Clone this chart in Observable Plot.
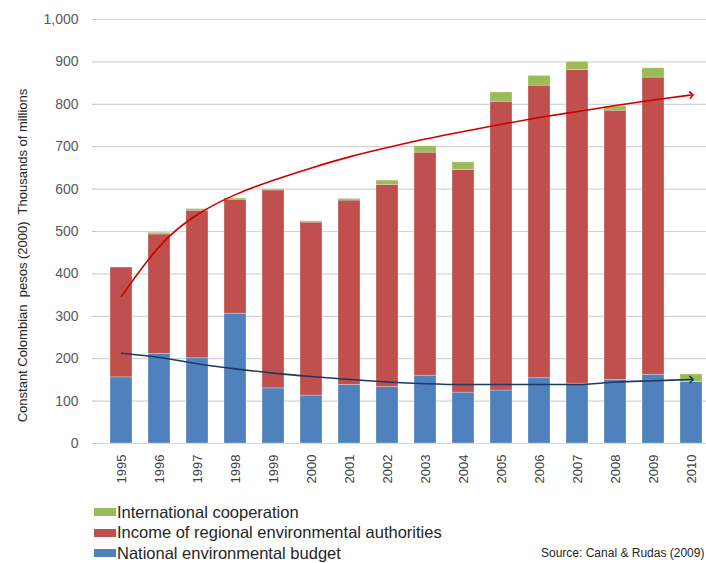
<!DOCTYPE html>
<html>
<head>
<meta charset="utf-8">
<script src="https://cdn.jsdelivr.net/npm/d3@7"></script>
<script src="https://cdn.jsdelivr.net/npm/@observablehq/plot@0.6"></script>
<style>
  body { margin: 0; background: #fff; }
  #wrap { position: relative; width: 706px; height: 563px; overflow: hidden; font-family: "Liberation Sans", Arial, sans-serif; color: #262626; }
  #legend { position: absolute; left: 94px; top: 502px; }
  .row { display: flex; align-items: center; height: 20.5px; font-size: 16.5px; white-space: nowrap; }
  .sw { width: 22px; height: 8px; margin-right: 1px; }
  #source { position: absolute; left: 541px; top: 546px; font-size: 12px; white-space: nowrap; }
</style>
</head>
<body>
<div id="wrap">
  <div id="chart"></div>
  <div id="legend"></div>
  <div id="source">Source: Canal &amp; Rudas (2009)</div>
</div>
<script>
const years = ["1995","1996","1997","1998","1999","2000","2001","2002","2003","2004","2005","2006","2007","2008","2009","2010"];
const seriesNames = ["National environmental budget", "Income of regional environmental authorities", "International cooperation"];
const seriesColors = ["#4f81bd", "#c0504d", "#9bbb59"];
const national = [156, 211, 201, 306, 130, 113, 138, 133, 160, 120, 125, 154, 141, 150, 162, 145];
const regional = [259, 282, 348, 269, 467, 408, 435, 477, 526, 525, 681, 690, 740, 635, 701, 0];
const international = [0, 4, 4, 3, 3, 3, 4, 10, 15, 18, 22, 23, 19, 10, 22, 18];
const regionalTrend = [347, 465, 540, 587, 621, 650, 676, 698, 718, 736, 753, 769, 783, 797, 810, 822];
const nationalTrend = [213, 203, 188, 176, 166, 158, 151, 145, 141, 139, 139, 139, 139, 145, 148, 151];
const yTicks = [0, 100, 200, 300, 400, 500, 600, 700, 800, 900, 1000];
const yLabel = "Constant Colombian\u00a0 pesos (2000)\u00a0 Thousands of millions";

const seriesValues = [national, regional, international];
const bars = [];
seriesNames.forEach((s, si) => years.forEach((y, i) => bars.push({year: y, series: s, value: seriesValues[si][i]})));
const redLine = years.map((y, i) => ({year: y, value: regionalTrend[i]}));
const blueLine = years.map((y, i) => ({year: y, value: nationalTrend[i]}));

const plot = Plot.plot({
  width: 706,
  height: 500,
  marginLeft: 96,
  marginRight: 0,
  marginTop: 19,
  marginBottom: 57,
  style: { fontFamily: "'Liberation Sans', Arial, sans-serif", background: "#fff" },
  x: { type: "band", domain: years, paddingInner: 0.431, paddingOuter: 0.103, align: 0.755 },
  y: { domain: [0, 1000] },
  color: { domain: seriesNames, range: seriesColors },
  marks: [
    Plot.gridY(yTicks, { stroke: "#d3d3d3", strokeOpacity: 1, strokeWidth: 1.2 }),
    Plot.axisY(yTicks, { tickFormat: d3.format(","), tickSize: 4, tickPadding: 14, fontSize: 14, fill: "#595959", stroke: "#bfbfbf", label: null }),
    Plot.axisX({ tickRotate: -90, tickSize: 0, tickPadding: 11, fontSize: 13, fill: "#404040", label: null }),
    Plot.barY(bars, { x: "year", y: "value", fill: "series", order: seriesNames, stroke: "#ffffff", strokeOpacity: 0.35, strokeWidth: 0.8 }),
    Plot.line(redLine, { x: "year", y: "value", curve: "natural", stroke: "#cc0000", strokeWidth: 1.6, markerEnd: "arrow" }),
    Plot.line(blueLine, { x: "year", y: "value", curve: "monotone-x", stroke: "#1f3864", strokeWidth: 1.6, markerEnd: "arrow" }),
    Plot.text([yLabel], { frameAnchor: "left", textAnchor: "middle", dx: -74, dy: 24, rotate: -90, fontSize: 13, fill: "#262626", text: d => d })
  ]
});
document.getElementById("chart").appendChild(plot);

const legend = document.getElementById("legend");
[2, 1, 0].forEach(i => {
  const row = document.createElement("div");
  row.className = "row";
  const sw = document.createElement("span");
  sw.className = "sw";
  sw.style.background = seriesColors[i];
  const t = document.createElement("span");
  t.textContent = seriesNames[i];
  row.appendChild(sw);
  row.appendChild(t);
  legend.appendChild(row);
});
</script>
</body>
</html>
